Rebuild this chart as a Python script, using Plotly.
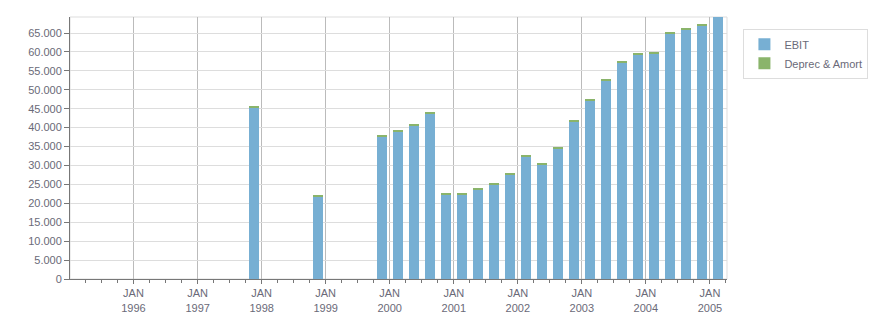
import pandas as pd
import plotly.graph_objects as go

quarters = ["1997Q4", "1998Q4", "1999Q4",
            "2000Q1", "2000Q2", "2000Q3", "2000Q4",
            "2001Q1", "2001Q2", "2001Q3", "2001Q4",
            "2002Q1", "2002Q2", "2002Q3", "2002Q4",
            "2003Q1", "2003Q2", "2003Q3", "2003Q4",
            "2004Q1", "2004Q2", "2004Q3", "2004Q4",
            "2005Q1"]
ebit = [45450, 21700, 37550,
        38870, 40450, 43620, 22220,
        22220, 23540, 24860, 27500,
        32250, 30150, 34370, 41500,
        47300, 52330, 57080, 59200,
        59550, 65000, 65800, 66860,
        69800]
deprec = [350, 320, 330,
          330, 330, 330, 330,
          330, 330, 330, 330,
          340, 320, 330, 340,
          350, 350, 350, 350,
          340, 360, 350, 350,
          350]

year_ticks = list(range(1996, 2006))
tick_vals = [f"{y}-01-01" for y in year_ticks]
tick_text = [f"JAN<br>{y}" for y in year_ticks]

TEXT = "#6a6a78"


def quarter_mid(q):
    p = pd.Period(q, freq="Q")
    return p.start_time + (p.end_time - p.start_time) / 2


x_mid = [quarter_mid(q) for q in quarters]
bar_w = 57 * 86400000

fig = go.Figure()
fig.add_trace(go.Bar(x=x_mid, y=ebit, name="EBIT", marker_color="#77afd3",
                     marker_line_width=0, width=bar_w))
fig.add_trace(go.Bar(x=x_mid, y=deprec, name="Deprec & Amort", marker_color="#8ab46b",
                     marker_line_width=0, width=bar_w))

fig.update_layout(
    barmode="stack",
    width=876, height=313,
    margin=dict(l=70, r=149, t=17, b=34, autoexpand=False),
    paper_bgcolor="white", plot_bgcolor="white",
    separators=",.",
    font=dict(family="Liberation Sans, Arial, sans-serif", size=11, color=TEXT),
    legend=dict(x=1.025, y=0.955, xanchor="left", yanchor="top",
                traceorder="normal",
                bordercolor="#dddddd", borderwidth=1, bgcolor="white",
                font=dict(size=11, color=TEXT),
                itemwidth=30, tracegroupgap=0),
    showlegend=True,
    shapes=[dict(type="rect", xref="paper", yref="paper", x0=0, x1=1, y0=0, y1=1,
                 line=dict(color="#dddddd", width=1), layer="below")],
)
fig.update_xaxes(
    type="date",
    range=["1995-01-04", "2005-04-08"],
    tickmode="array", tickvals=tick_vals, ticktext=tick_text,
    showgrid=True, gridcolor="#bbbbbb", gridwidth=1,
    showline=True, linecolor="#777777", linewidth=1,
    ticks="outside", ticklen=4, tickcolor="#777777",
    minor=dict(dtick="M3", tick0="1995-01-01", ticks="outside", ticklen=3,
               tickcolor="#777777", showgrid=False),
    tickfont=dict(size=11, color=TEXT),
    zeroline=False,
)
fig.update_yaxes(
    range=[0, 69235],
    dtick=5000, tick0=0,
    tickformat=",d",
    showgrid=True, gridcolor="#dddddd", gridwidth=1,
    showline=True, linecolor="#777777", linewidth=1,
    ticks="outside", ticklen=5, tickcolor="#777777",
    tickfont=dict(size=11, color=TEXT),
    zeroline=False,
)

fig.write_html("out.html")
